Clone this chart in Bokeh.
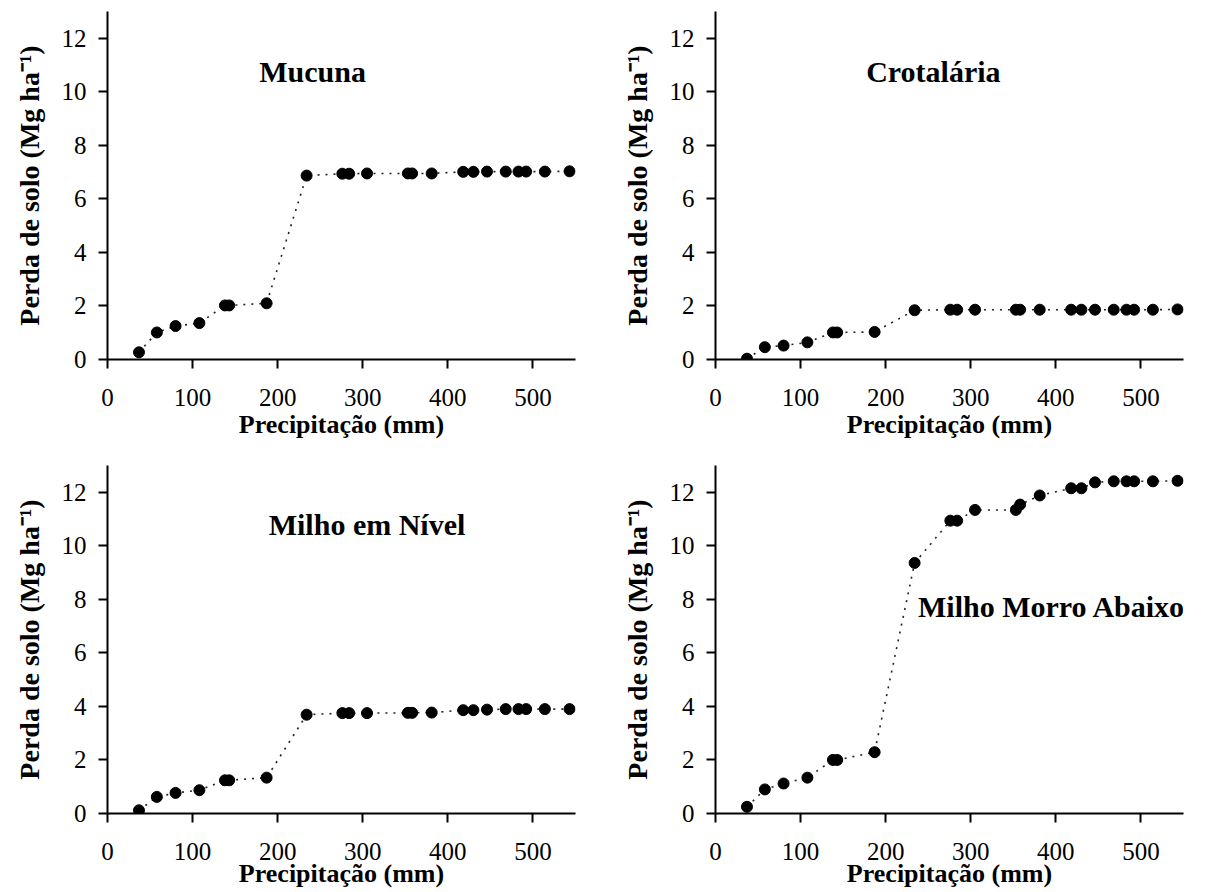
from bokeh.plotting import figure
from bokeh.layouts import column, row
from bokeh.models import FixedTicker, Range1d, ColumnDataSource
from bokeh.core.properties import value
from bokeh.embed import file_html
from bokeh.resources import INLINE

# Cumulative rainfall (mm)
precip = [37, 58, 80, 108, 138, 143, 187, 234, 276, 284, 305, 353, 358, 381,
          418, 430, 446, 468, 483, 492, 514, 543]

mucuna = [0.27, 1.01, 1.25, 1.36, 2.02, 2.02, 2.10, 6.87, 6.94, 6.94, 6.95, 6.95,
          6.95, 6.95, 7.01, 7.01, 7.02, 7.02, 7.02, 7.02, 7.02, 7.03]
crotalaria = [0.03, 0.46, 0.52, 0.64, 1.01, 1.01, 1.03, 1.84, 1.86, 1.86, 1.86, 1.86,
              1.86, 1.86, 1.86, 1.86, 1.86, 1.86, 1.86, 1.86, 1.86, 1.87]
milho_nivel = [0.12, 0.62, 0.77, 0.87, 1.24, 1.24, 1.34, 3.69, 3.75, 3.75, 3.75, 3.76,
               3.76, 3.77, 3.86, 3.86, 3.88, 3.90, 3.90, 3.90, 3.90, 3.90]
milho_morro = [0.25, 0.90, 1.12, 1.34, 2.00, 2.00, 2.29, 9.36, 10.94, 10.94, 11.34, 11.34,
               11.54, 11.88, 12.15, 12.15, 12.37, 12.41, 12.41, 12.41, 12.41, 12.43]

titles = ["Mucuna", "Crotalária", "Milho em Nível", "Milho Morro Abaixo"]
title_x = [241, 256, 305, 238]
title_y = [10.75, 10.75, 10.8, 7.74]
title_align = ["center", "center", "center", "left"]

x_ticks = [0, 100, 200, 300, 400, 500]
y_ticks = [0, 2, 4, 6, 8, 10, 12]

FONT = "Liberation Serif"


def panel(yvals, title, tx, ty, talign, bl, br, bt, bb, xlabel_standoff):
    p = figure(frame_width=468, frame_height=348, output_backend="svg", toolbar_location=None,
               x_range=Range1d(0, 550), y_range=Range1d(0, 13),
               min_border_left=bl, min_border_right=br,
               min_border_top=bt, min_border_bottom=bb)
    p.outline_line_color = None
    p.grid.visible = False
    p.background_fill_color = "white"
    p.border_fill_color = "white"
    src = ColumnDataSource(dict(x=precip, y=yvals))
    p.line("x", "y", source=src, line_color="#222222", line_width=1.6, line_dash="2 6")
    p.scatter("x", "y", source=src, size=11, color="black")
    p.text(x=[tx], y=[ty], text=[title], text_font=value(FONT), text_font_style="bold",
           text_font_size="30px", text_align=talign, text_baseline="middle", text_color="black")
    p.xaxis.ticker = FixedTicker(ticks=x_ticks)
    p.yaxis.ticker = FixedTicker(ticks=y_ticks)
    p.xaxis.axis_label = "Precipitação (mm)"
    p.yaxis.axis_label = "Perda de solo (Mg ha⁻¹)"
    for ax in (p.xaxis, p.yaxis):
        ax.axis_line_width = 2
        ax.axis_line_color = "black"
        ax.major_tick_line_color = "black"
        ax.major_tick_line_width = 2
        ax.major_tick_in = 0
        ax.major_tick_out = 9
        ax.minor_tick_line_color = None
        ax.major_label_text_font = FONT
        ax.major_label_text_font_size = "25px"
        ax.major_label_text_color = "black"
        ax.axis_label_text_font = FONT
        ax.axis_label_text_font_style = "bold"
        ax.axis_label_text_color = "black"
    p.xaxis.axis_label_text_font_size = "26px"
    p.yaxis.axis_label_text_font_size = "28px"
    p.xaxis.major_label_standoff = 20
    p.xaxis.axis_label_standoff = xlabel_standoff
    p.yaxis.major_label_standoff = 12
    p.yaxis.axis_label_standoff = 14
    return p


p1 = panel(mucuna, titles[0], title_x[0], title_y[0], title_align[0], 107, 41, 11, 103, 1)
p2 = panel(crotalaria, titles[1], title_x[1], title_y[1], title_align[1], 99, 14, 11, 103, 1)
p3 = panel(milho_nivel, titles[2], title_x[2], title_y[2], title_align[2], 107, 41, 3, 60, -4)
p4 = panel(milho_morro, titles[3], title_x[3], title_y[3], title_align[3], 99, 14, 3, 60, -4)

layout = column(row(p1, p2), row(p3, p4))
open("out.html", "w").write(file_html(layout, INLINE))
